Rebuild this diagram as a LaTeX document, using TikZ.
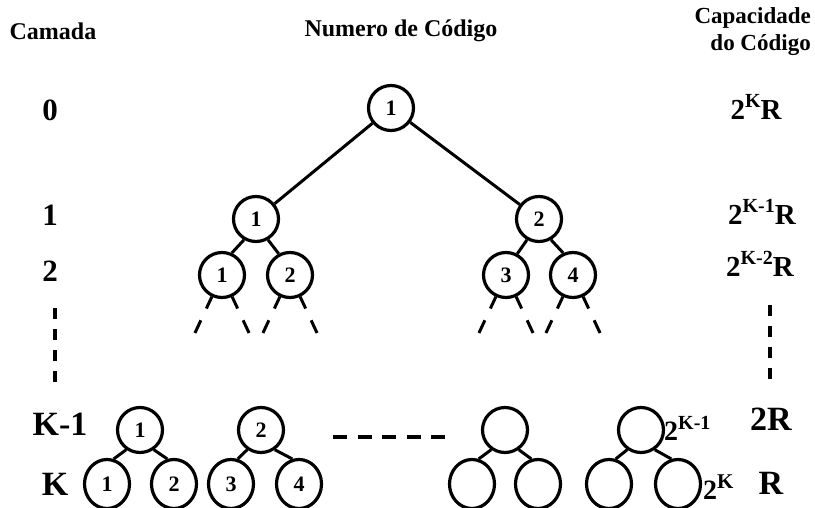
\documentclass[tikz,border=0pt]{standalone}
\usepackage{fontspec}
\setmainfont{Liberation Serif}
\usetikzlibrary{calc,shapes.geometric}

\newcommand{\sz}[1]{\fontsize{#1}{#1}\selectfont}
\newcommand{\pw}[2]{2\raisebox{0.40em}{\sz{#1}#2}}

\begin{document}
\begin{tikzpicture}[x=1pt,y=-1pt,
  every node/.style={font=\bfseries},
  codenode/.style={circle,draw,line width=3.2pt,minimum size=45pt,inner sep=0pt,font=\bfseries\sz{22}},
  leafnode/.style={ellipse,draw,line width=3.2pt,minimum width=45pt,minimum height=49pt,inner sep=0pt,font=\bfseries\sz{22}},
  linkline/.style={line width=3pt},
  stubline/.style={line width=3pt},
  vdash/.style={line width=3.2pt,dash pattern=on 11pt off 10pt},
  hdash/.style={line width=3.8pt,dash pattern=on 14pt off 10.5pt},
  headtext/.style={font=\bfseries\sz{24}},
  lvltext/.style={font=\bfseries\sz{31}},
  bottext/.style={font=\bfseries\sz{34}},
  captext/.style={font=\bfseries\sz{29}}]

\useasboundingbox (0,0) rectangle (815,508);

% column headers
\node[headtext] (hcam) at (53,31) {Camada};
\node[headtext] (hnum) at (401,31) {Numero de Código};
\node[headtext,align=right,anchor=east,inner sep=0pt,font=\bfseries\sz{23}] (hcap) at (811,32) {Capacidade\\[4pt]do Código};

% upper part of the code tree
\node[codenode] (r)  at (391,108) {1};
\node[codenode] (a1) at (256,219) {1};
\node[codenode] (a2) at (539,219) {2};
\node[codenode] (b1) at (222,275) {1};
\node[codenode] (b2) at (290,275) {2};
\node[codenode] (b3) at (506,275) {3};
\node[codenode] (b4) at (573,275) {4};

\draw[linkline] (r) -- (a1);
\draw[linkline] (r) -- (a2);
\draw[linkline] (a1.-120) -- (b1.66);
\draw[linkline] (a1.-60) -- (b2.118);
\draw[linkline] (a2.-120) -- (b3.62);
\draw[linkline] (a2.-60) -- (b4.114);

% branches continuing below layer 2
\foreach \n in {b1,b2,b3,b4}{
  \foreach \ang in {-115,-65}{
    \draw[stubline] ($(\n)+(\ang:24pt)$) -- ($(\n)+(\ang:37pt)$);
    \draw[stubline] ($(\n)+(\ang:50pt)$) -- ($(\n)+(\ang:64pt)$);
  }
}

% lowest two layers
\node[codenode] (t1)  at (140,430) {1};
\node[leafnode] (t1l) at (107,484) {1};
\node[leafnode] (t1r) at (174,484) {2};
\node[codenode] (t2)  at (261,430) {2};
\node[leafnode] (t2l) at (231,484) {3};
\node[leafnode] (t2r) at (299,484) {4};
\node[codenode] (t3)  at (505,430) {};
\node[leafnode] (t3l) at (472,484) {};
\node[leafnode] (t3r) at (538,484) {};
\node[codenode] (t4)  at (641,430) {};
\node[leafnode] (t4l) at (609,484) {};
\node[leafnode] (t4r) at (678,484) {};

\foreach \p in {t1,t2,t3,t4}{
  \draw[linkline] (\p.-125) -- (\p l.75);
  \draw[linkline] (\p.-55) -- (\p r.105);
}

% dashed gaps
\coordinate (hl) at (333,437);
\coordinate (hr) at (446,437);
\draw[hdash] (hl) -- (hr);
\coordinate (ltop) at (55,308);
\coordinate (lbot) at (55,382);
\draw[vdash] (ltop) -- (lbot);
\coordinate (rtop) at (770,305);
\coordinate (rbot) at (770,379);
\draw[vdash] (rtop) -- (rbot);

% layer numbers
\node[lvltext] (l0) at (50,110) {0};
\node[lvltext] (l1) at (50,215) {1};
\node[lvltext] (l2) at (50,271) {2};
\node[bottext] (lk1) at (60,424) {K-1};
\node[bottext] (lk) at (55,484) {K};

% code capacities
\node[captext] (c0) at (756,107) {\pw{20}{K}R};
\node[captext] (c1) at (762,212) {\pw{20}{K-1}R};
\node[captext] (c2) at (760,264) {\pw{20}{K-2}R};
\node[bottext] (ck1) at (771,419) {2R};
\node[bottext] (ck) at (771,483) {R};

% number of the last codes
\node[font=\bfseries\sz{28},anchor=west,inner sep=0pt] (n1) at (664,428) {\pw{20}{K-1}};
\node[font=\bfseries\sz{28},anchor=west,inner sep=0pt] (n2) at (703,487) {\pw{21}{K}};
\end{tikzpicture}
\end{document}
